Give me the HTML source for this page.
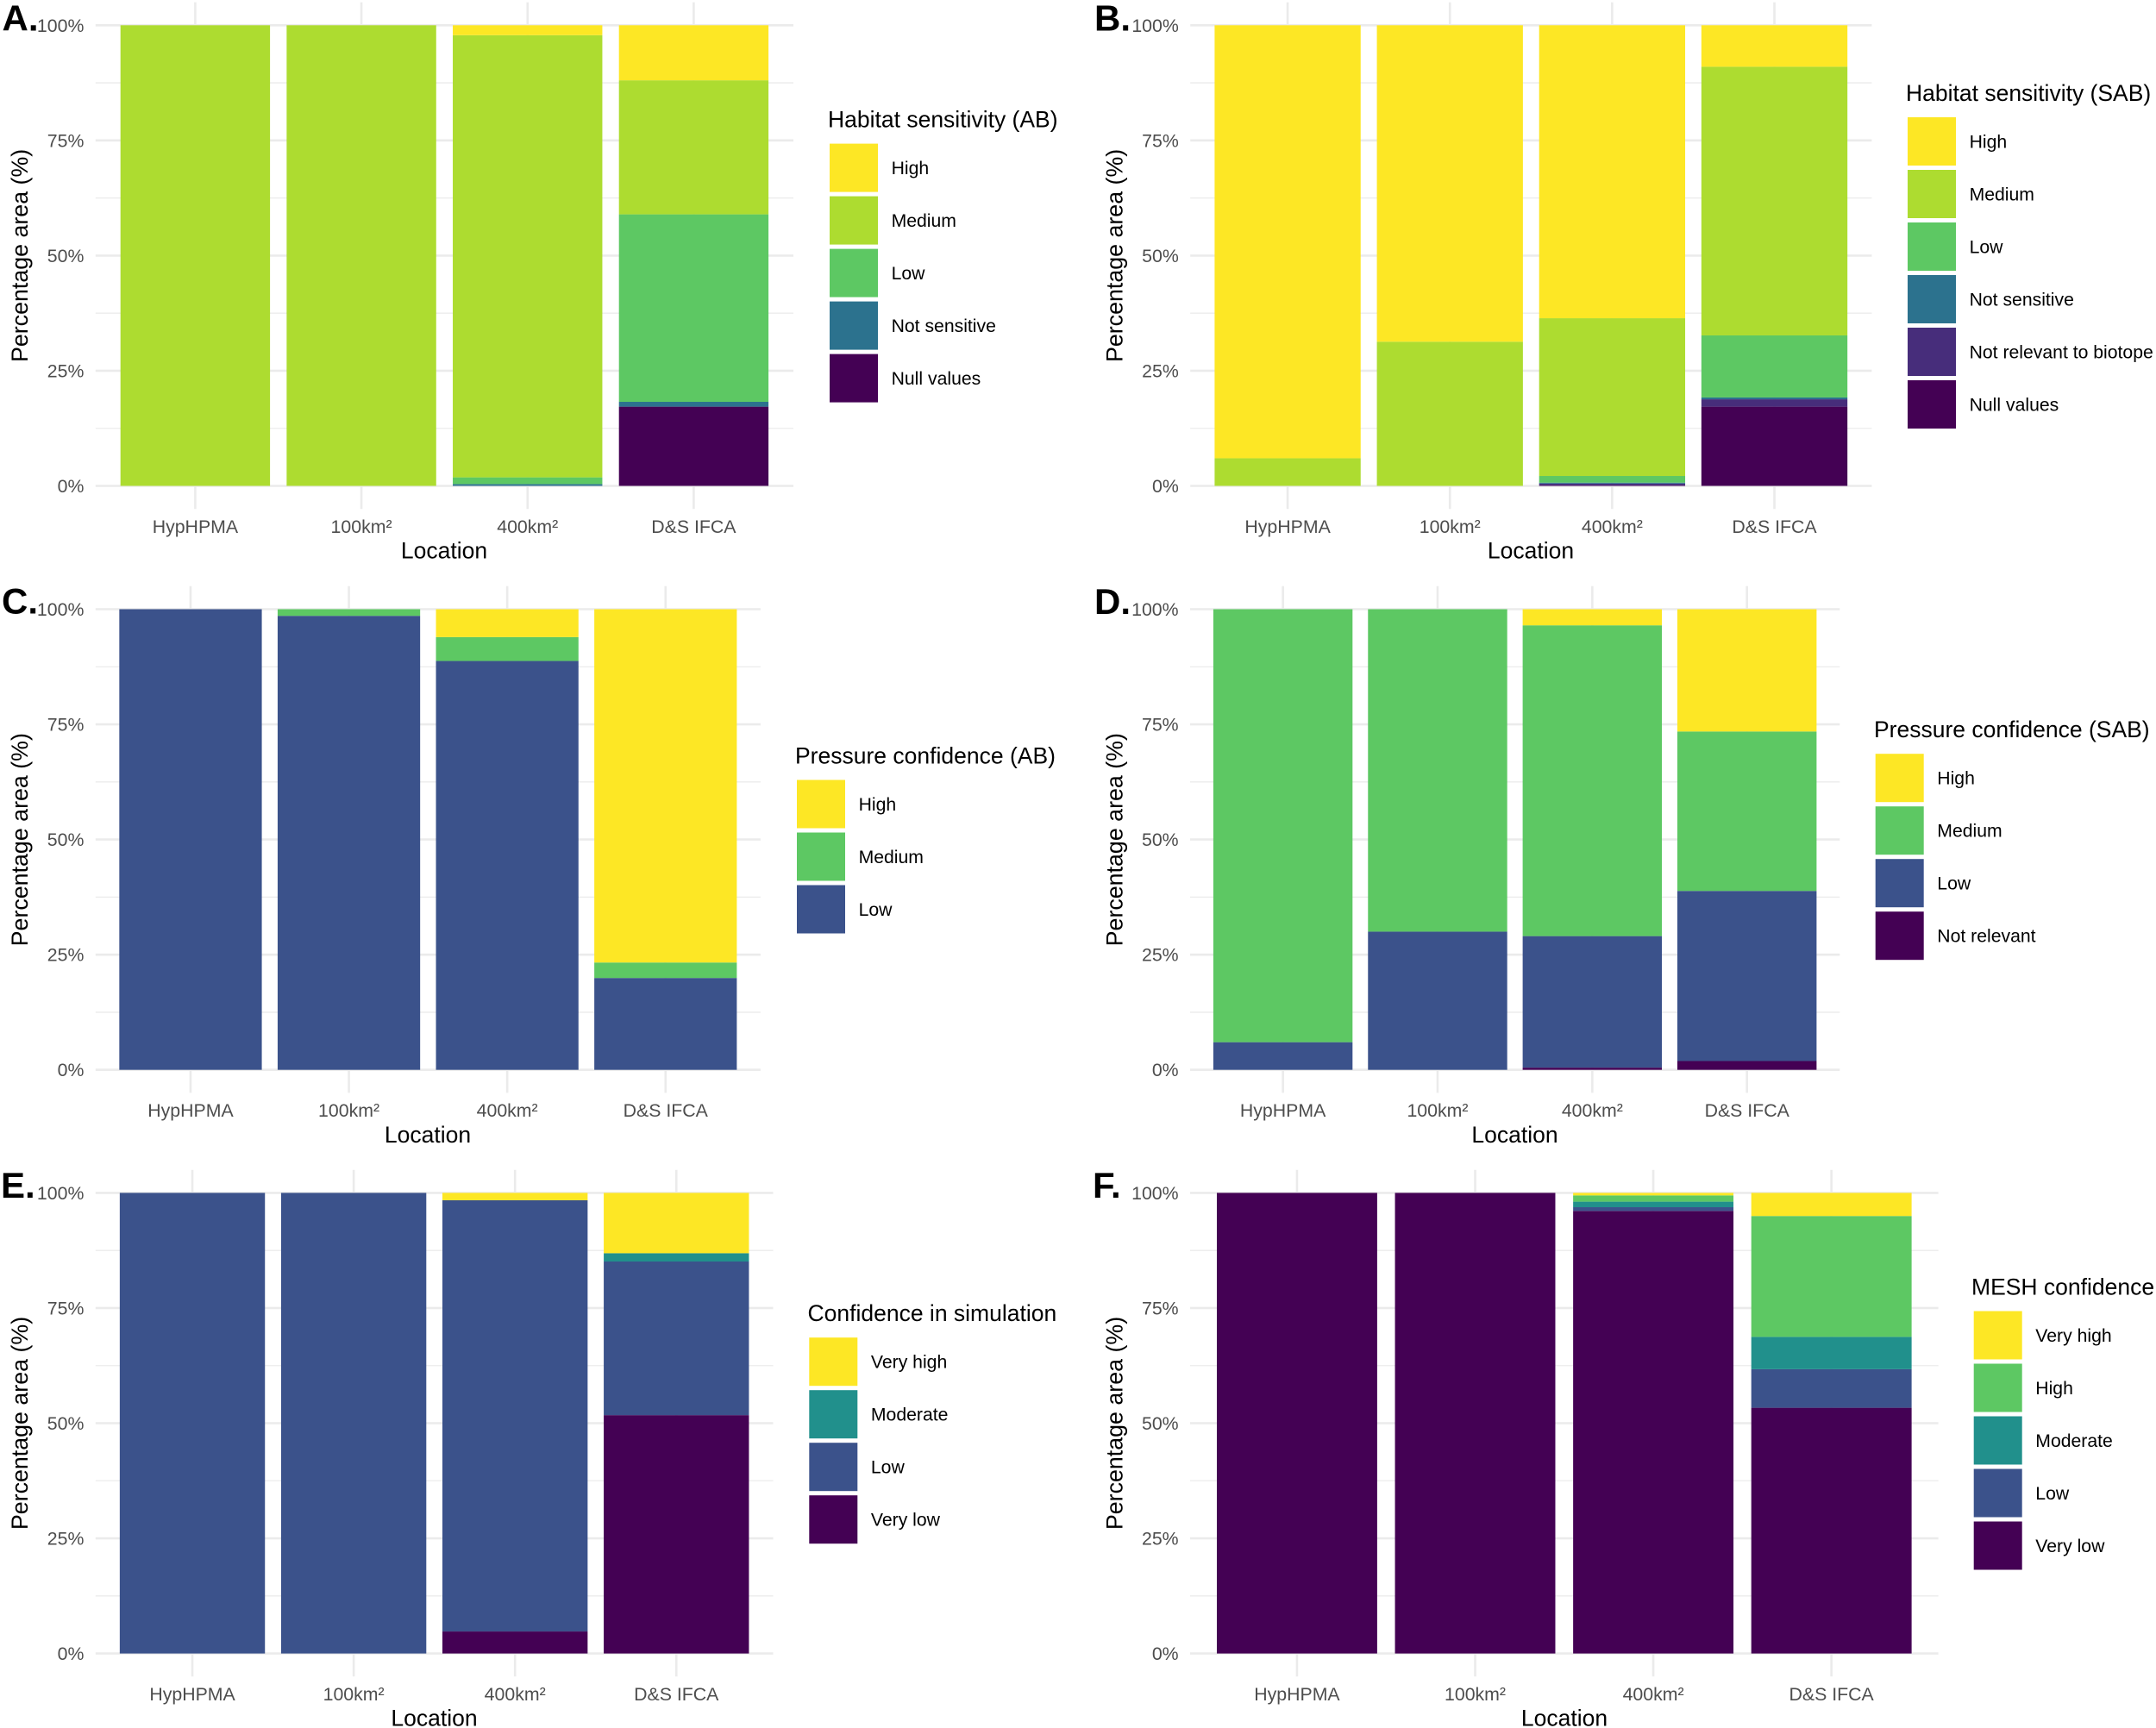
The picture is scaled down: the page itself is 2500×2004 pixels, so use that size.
<!DOCTYPE html>
<html lang="en">
<head>
<meta charset="utf-8">
<title>Habitat sensitivity and confidence by location</title>
<style>
html,body{margin:0;padding:0;background:#fff;}
svg{display:block;font-family:"Liberation Sans",Arial,sans-serif;}
.panel-letter{font-size:42px;font-weight:700;fill:#000;}
.axis-title{font-size:26.5px;fill:#000;}
.y-title{font-size:26.8px;}
.legend-title{font-size:26.5px;fill:#000;}
.legend-label{font-size:21.2px;fill:#000;}
.tick-label{font-size:21.3px;fill:#4d4d4d;}
</style>
</head>
<body>
<svg id="figure" xmlns="http://www.w3.org/2000/svg" width="2500" height="2004" viewBox="0 0 2500 2004">
  <rect x="0" y="0" width="2500" height="2004" fill="#ffffff"/>

  <g id="panel-a">
    <g class="marks"></g>
    <text class="panel-letter" x="2.5" y="35.5">A.</text>
    <text class="axis-title y-title" text-anchor="middle" transform="translate(32 296.4) rotate(-90)">Percentage area (%)</text>
    <text class="axis-title" text-anchor="middle" x="515" y="647.5">Location</text>
    <text class="legend-title" x="960" y="147.7">Habitat sensitivity (AB)</text>
  </g>

  <g id="panel-b">
    <g class="marks"></g>
    <text class="panel-letter" x="1269" y="35.5">B.</text>
    <text class="axis-title y-title" text-anchor="middle" transform="translate(1301.5 296.4) rotate(-90)">Percentage area (%)</text>
    <text class="axis-title" text-anchor="middle" x="1775" y="647.5">Location</text>
    <text class="legend-title" x="2210" y="117">Habitat sensitivity (SAB)</text>
  </g>

  <g id="panel-c">
    <g class="marks"></g>
    <text class="panel-letter" x="2" y="711.5">C.</text>
    <text class="axis-title y-title" text-anchor="middle" transform="translate(32 973.7) rotate(-90)">Percentage area (%)</text>
    <text class="axis-title" text-anchor="middle" x="496" y="1324.8">Location</text>
    <text class="legend-title" x="922" y="885.5">Pressure confidence (AB)</text>
  </g>

  <g id="panel-d">
    <g class="marks"></g>
    <text class="panel-letter" x="1269" y="712">D.</text>
    <text class="axis-title y-title" text-anchor="middle" transform="translate(1301.5 973.7) rotate(-90)">Percentage area (%)</text>
    <text class="axis-title" text-anchor="middle" x="1756.5" y="1324.8">Location</text>
    <text class="legend-title" x="2173" y="855.2">Pressure confidence (SAB)</text>
  </g>

  <g id="panel-e">
    <g class="marks"></g>
    <text class="panel-letter" x="1" y="1389">E.</text>
    <text class="axis-title y-title" text-anchor="middle" transform="translate(32 1650.5) rotate(-90)">Percentage area (%)</text>
    <text class="axis-title" text-anchor="middle" x="503.5" y="2001.6">Location</text>
    <text class="legend-title" x="936.5" y="1532.2">Confidence in simulation</text>
  </g>

  <g id="panel-f">
    <g class="marks"></g>
    <text class="panel-letter" x="1267" y="1389">F.</text>
    <text class="axis-title y-title" text-anchor="middle" transform="translate(1301.5 1650.5) rotate(-90)">Percentage area (%)</text>
    <text class="axis-title" text-anchor="middle" x="1814" y="2001.6">Location</text>
    <text class="legend-title" x="2286" y="1501.5">MESH confidence</text>
  </g>
</svg>

<script>
// ---------- Shared axis data ----------
const categories = ['HypHPMA', '100km²', '400km²', 'D&S IFCA'];
const yTickValues = [0, 25, 50, 75, 100];
const yMinorValues = [12.5, 37.5, 62.5, 87.5];

// ---------- Panel A: Habitat sensitivity (AB) ----------
const aSeriesNames = ['High', 'Medium', 'Low', 'Not sensitive', 'Null values'];
const aHigh = [0, 0, 2.15, 11.95];
const aMedium = [100, 100, 96.0, 29.1];
const aLow = [0, 0, 1.45, 40.7];
const aNotSensitive = [0, 0, 0.4, 1.05];
const aNull = [0, 0, 0, 17.2];

// ---------- Panel B: Habitat sensitivity (SAB) ----------
const bSeriesNames = ['High', 'Medium', 'Low', 'Not sensitive', 'Not relevant to biotope', 'Null values'];
const bHigh = [94, 68.7, 63.6, 9];
const bMedium = [6, 31.3, 34.25, 58.33];
const bLow = [0, 0, 1.45, 13.47];
const bNotSensitive = [0, 0, 0.2, 0.4];
const bNotRelevant = [0, 0, 0.4, 1.6];
const bNull = [0, 0, 0.1, 17.2];

// ---------- Panel C: Pressure confidence (AB) ----------
const cSeriesNames = ['High', 'Medium', 'Low'];
const cHigh = [0, 0, 6.06, 76.7];
const cMedium = [0, 1.44, 5.18, 3.36];
const cLow = [100, 98.56, 88.76, 19.94];

// ---------- Panel D: Pressure confidence (SAB) ----------
const dSeriesNames = ['High', 'Medium', 'Low', 'Not relevant'];
const dHigh = [0, 0, 3.5, 26.55];
const dMedium = [94, 70, 67.47, 34.61];
const dLow = [6, 30, 28.55, 36.93];
const dNotRelevant = [0, 0, 0.48, 1.91];

// ---------- Panel E: Confidence in simulation ----------
const eSeriesNames = ['Very high', 'Moderate', 'Low', 'Very low'];
const eVeryHigh = [0, 0, 1.6, 13.1];
const eModerate = [0, 0, 0, 1.8];
const eLow = [100, 100, 93.62, 33.35];
const eVeryLow = [0, 0, 4.78, 51.75];

// ---------- Panel F: MESH confidence ----------
const fSeriesNames = ['Very high', 'High', 'Moderate', 'Low', 'Very low'];
const fVeryHigh = [0, 0, 0.55, 5.02];
const fHigh = [0, 0, 1.36, 26.24];
const fModerate = [0, 0, 1.2, 7.02];
const fLow = [0, 0, 0.8, 8.37];
const fVeryLow = [100, 100, 96.09, 53.35];

// ---------- Styling and layout (not data) ----------
const YELLOW = '#FDE725', LIME = '#ADDC30', GREEN = '#5DC863', TEAL = '#21908C',
      STEEL = '#2C728E', BLUE = '#3B528B', INDIGO = '#472D7B', PURPLE = '#440154';

const panels = [
  { id: 'a', left: 110.8, right: 920, top: 29.3, legendX: 962, legendY: 166.6,
    names: aSeriesNames, values: [aHigh, aMedium, aLow, aNotSensitive, aNull],
    colors: [YELLOW, LIME, GREEN, STEEL, PURPLE] },
  { id: 'b', left: 1380.2, right: 2170.4, top: 29.3, legendX: 2212, legendY: 136,
    names: bSeriesNames, values: [bHigh, bMedium, bLow, bNotSensitive, bNotRelevant, bNull],
    colors: [YELLOW, LIME, GREEN, STEEL, INDIGO, PURPLE] },
  { id: 'c', left: 110.8, right: 881.9, top: 706.5, legendX: 924, legendY: 904.5,
    names: cSeriesNames, values: [cHigh, cMedium, cLow],
    colors: [YELLOW, GREEN, BLUE] },
  { id: 'd', left: 1380, right: 2133.3, top: 706.5, legendX: 2174.7, legendY: 874.2,
    names: dSeriesNames, values: [dHigh, dMedium, dLow, dNotRelevant],
    colors: [YELLOW, GREEN, BLUE, PURPLE] },
  { id: 'e', left: 110.8, right: 896.5, top: 1383.4, legendX: 938.3, legendY: 1551.2,
    names: eSeriesNames, values: [eVeryHigh, eModerate, eLow, eVeryLow],
    colors: [YELLOW, TEAL, BLUE, PURPLE] },
  { id: 'f', left: 1380, right: 2247.6, top: 1383.4, legendX: 2288.7, legendY: 1520.5,
    names: fSeriesNames, values: [fVeryHigh, fHigh, fModerate, fLow, fVeryLow],
    colors: [YELLOW, GREEN, TEAL, BLUE, PURPLE] }
];

const PLOT_HEIGHT = 534.2;
const Y_EXPAND = 0.05;
const BAR_FRACTION = 0.9;
const GRID = '#ebebeb';
const KEY_SIZE = 56;
const KEY_STEP = 61;
const SVG_NS = 'http://www.w3.org/2000/svg';

// ---------- Axis functions ----------
function xStep(p) { return (p.right - p.left) / (categories.length - 1 + 1.2); }
function xScale(p, i) { return p.left + (i + 0.6) * xStep(p); }
function yScale(p, v) { return p.top + PLOT_HEIGHT - (v / 100) * PLOT_HEIGHT; }
function slug(s) { return s.toLowerCase().replace(/²/g, '').replace(/&/g, 'and').replace(/[^a-z0-9]+/g, '-'); }

function make(tag, attrs, parent, text) {
  const el = document.createElementNS(SVG_NS, tag);
  for (const k in attrs) el.setAttribute(k, attrs[k]);
  if (text !== undefined) el.textContent = text;
  parent.appendChild(el);
  return el;
}

function drawPanel(p) {
  const root = document.querySelector('#panel-' + p.id + ' .marks');
  const yTop = p.top - PLOT_HEIGHT * Y_EXPAND;
  const yBottom = p.top + PLOT_HEIGHT + PLOT_HEIGHT * Y_EXPAND;

  yMinorValues.forEach(function (v) {
    const el = make('line', { x1: p.left, x2: p.right, y1: yScale(p, v), y2: yScale(p, v), stroke: GRID, 'stroke-width': 1.3 }, root);
    
    
  });
  yTickValues.forEach(function (v) {
    const el = make('line', { x1: p.left, x2: p.right, y1: yScale(p, v), y2: yScale(p, v), stroke: GRID, 'stroke-width': 2.6 }, root);
    
    
    const label = make('text', { x: p.left - 13.4, y: yScale(p, v) + 7.5, 'text-anchor': 'end', 'class': 'tick-label' }, root, v + '%');
    
    
  });
  categories.forEach(function (c, i) {
    const el = make('line', { x1: xScale(p, i), x2: xScale(p, i), y1: yTop, y2: yBottom, stroke: GRID, 'stroke-width': 2.6 }, root);
    
    
    const label = make('text', { x: xScale(p, i), y: p.top + PLOT_HEIGHT + 54.4, 'text-anchor': 'middle', 'class': 'tick-label' }, root, c);
    
    
  });

  // Stacked bars: last series in the legend sits at the bottom of the stack.
  categories.forEach(function (c, i) {
    const width = xStep(p) * BAR_FRACTION;
    let cumulative = 0;
    for (let s = p.values.length - 1; s >= 0; s--) {
      const value = p.values[s][i];
      if (value <= 0) continue;
      const y0 = yScale(p, cumulative + value);
      const y1 = yScale(p, cumulative);
      const bar = make('rect', { x: xScale(p, i) - width / 2, y: y0, width: width, height: y1 - y0, fill: p.colors[s] }, root);
      
      
      cumulative += value;
    }
  });

  // Legend
  p.names.forEach(function (name, s) {
    const y = p.legendY + s * KEY_STEP;
    const key = make('rect', { x: p.legendX, y: y, width: KEY_SIZE, height: KEY_SIZE, fill: p.colors[s] }, root);
    
    
    const label = make('text', { x: p.legendX + 71.6, y: y + KEY_SIZE / 2 + 7.4, 'class': 'legend-label' }, root, name);
    
    
  });
}

panels.forEach(drawPanel);
</script>
</body>
</html>
